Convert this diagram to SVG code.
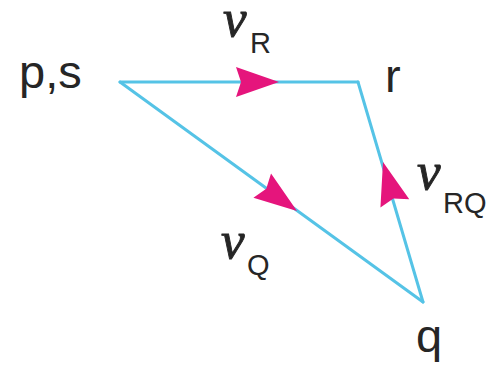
<svg xmlns="http://www.w3.org/2000/svg" xmlns:xlink="http://www.w3.org/1999/xlink" width="494" height="365" viewBox="0 0 494 365">
<style>
.edge{stroke:#55c3e6;stroke-width:3;fill:none;stroke-linecap:round;stroke-linejoin:round}
.ah{fill:#e5157c}
.lbl{font-family:"Liberation Sans",Arial,sans-serif;font-size:47px;fill:#262626}
.v{font-family:"Liberation Serif","Times New Roman",serif;font-style:italic;font-size:53px;fill:#262626;stroke:#262626;stroke-width:0.9}
.sub{font-family:"Liberation Sans",Arial,sans-serif;font-size:29px;fill:#262626}
</style>
<defs>
<path id="ah" d="M0,0 L-43,-15 L-38,0 L-43,15 Z"/>
</defs>
<rect width="494" height="365" fill="#ffffff"/>
<g id="connectors">
<path class="edge" d="M120,82 L358,82"/>
<path class="edge" d="M120,82 L423,302"/>
<path class="edge" d="M423,302 L358,82"/>
<use xlink:href="#ah" class="ah" transform="translate(279,82)"/>
<use xlink:href="#ah" class="ah" transform="translate(297,211) rotate(36)"/>
<use xlink:href="#ah" class="ah" transform="translate(383,162) rotate(-106)"/>
</g>
<g id="node-ps"><text class="lbl" x="19" y="88">p,s</text></g>
<g id="node-r"><text class="lbl" x="385" y="92">r</text></g>
<g id="node-q"><text class="lbl" x="416" y="352">q</text></g>
<g id="label-vR"><text class="v" x="223" y="36">v</text><text class="sub" x="250" y="53">R</text></g>
<g id="label-vQ"><text class="v" x="221" y="258">v</text><text class="sub" x="247" y="275">Q</text></g>
<g id="label-vRQ"><text class="v" x="417" y="189">v</text><text class="sub" x="443" y="213">RQ</text></g>
</svg>
